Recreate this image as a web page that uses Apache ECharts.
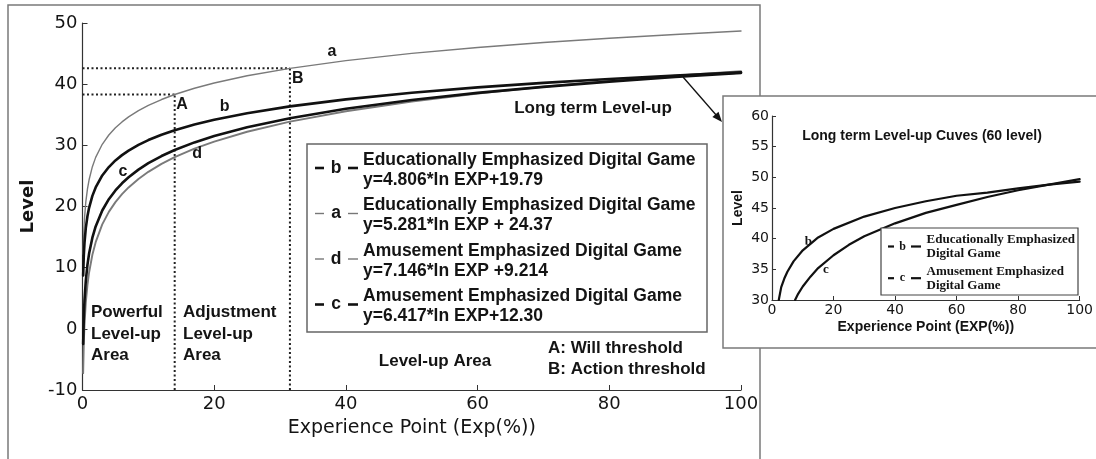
<!DOCTYPE html>
<html>
<head>
<meta charset="utf-8">
<script src="https://cdn.jsdelivr.net/npm/echarts@6/dist/echarts.min.js"></script>
<style>
html,body{margin:0;padding:0;background:#fff;}
#chart{width:1096px;height:459px;}
</style>
</head>
<body>
<div id="chart"></div>
<script>
// ---------- main chart data ----------
const expX   = [0.1,0.2,0.3,0.5,0.75,1,1.5,2,3,4,5,6,7,8.5,10,12,14,17,20,25,31.5,40,50,60,70,80,90,100];
const levelA = [12.21,15.87,18.01,20.71,22.85,24.37,26.51,28.03,30.17,31.69,32.87,33.83,34.65,35.67,36.53,37.49,38.31,39.33,40.19,41.37,42.59,43.85,45.03,45.99,46.81,47.51,48.13,48.69];
const levelB = [8.72,12.06,14.00,16.46,18.41,19.79,21.74,23.12,25.07,26.45,27.53,28.40,29.14,30.08,30.86,31.73,32.47,33.41,34.19,35.26,36.37,37.52,38.59,39.47,40.21,40.85,41.42,41.92];
const levelC = [-2.48,1.97,4.57,7.85,10.45,12.30,14.90,16.75,19.35,21.20,22.63,23.80,24.79,26.03,27.08,28.25,29.24,30.48,31.52,32.96,34.44,35.97,37.40,38.57,39.56,40.42,41.18,41.85];
const levelD = [-7.24,-2.29,0.61,4.26,7.16,9.21,12.11,14.17,17.07,19.12,20.72,22.02,23.12,24.51,25.67,26.97,28.07,29.46,30.62,32.22,33.87,35.58,37.17,38.47,39.57,40.53,41.37,42.12];

const thresholdX = [14, 31.5];      // A, B
const thresholdY = [38.3, 42.6];

const annX    = [37.9, 32.7, 15.1, 21.6, 6.15, 17.4];
const annY    = [45.3, 40.85, 36.6, 36.3, 25.7, 28.6];
const annText = ['a', 'B', 'A', 'b', 'c', 'd'];

const mainXTicks = {min: 0, max: 100, interval: 20};
const mainYTicks = {min: -10, max: 50, interval: 10};

const legendKeys  = ['b', 'a', 'd', 'c'];
const legendNames = ['Educationally Emphasized Digital Game','Educationally Emphasized Digital Game','Amusement Emphasized Digital Game','Amusement Emphasized Digital Game'];
const legendEqs   = ['y=4.806*ln EXP+19.79','y=5.281*ln EXP + 24.37','y=7.146*ln EXP +9.214','y=6.417*ln EXP+12.30'];

// ---------- inset data ----------
const insetXB = [2.2,3,4,5,7,10,15,20,30,40,50,60,70,80,90,100];
const insetB  = [30.0,32.1,33.5,34.6,36.3,38.1,40.2,41.6,43.6,45.0,46.1,47.0,47.5,48.2,48.8,49.3];
const insetXC = [7.5,8.5,10,12.5,15,20,25,30,40,50,60,70,80,90,100];
const insetC  = [30.0,31.0,32.2,33.8,35.2,37.3,39.0,40.4,42.5,44.2,45.5,46.8,47.9,48.8,49.7];
const insetAnnX = [11.8, 17.5];
const insetAnnY = [39.5, 35.0];
const insetAnnText = ['b', 'c'];
const insetLegendKeys = ['b', 'c'];
const insetLegendNames = [['Educationally Emphasized','Digital Game'],['Amusement Emphasized','Digital Game']];

const zip = (xs, ys) => xs.map((x, i) => [x, ys[i]]);

const TXT = '#141414';
const SANS = '"DejaVu Sans", sans-serif';
const ARIAL = '"Liberation Sans", Arial, sans-serif';
const SERIF = '"Liberation Serif", serif';

const chart = echarts.init(document.getElementById('chart'), null, {renderer: 'canvas'});

function curve(name, data, color, width, xi, z) {
  return {
    type: 'line', name, data, xAxisIndex: xi, yAxisIndex: xi,
    showSymbol: false, symbol: 'none', smooth: false,
    lineStyle: {color, width, cap: 'round', join: 'round'}, z: z || 3, silent: true, clip: true
  };
}

function dotted(data) {
  return {
    type: 'line', data, xAxisIndex: 0, yAxisIndex: 0, symbol: 'none',
    lineStyle: {color: '#222', width: 2, type: [2, 2.5]}, silent: true, z: 2
  };
}

function annSeries(xi, xs, ys, texts, font, size, z) {
  return {
    type: 'line', xAxisIndex: xi, yAxisIndex: xi, silent: true, z,
    lineStyle: {width: 0, opacity: 0}, symbol: 'none',
    data: [],
    markPoint: {
      symbol: 'circle', symbolSize: 0, silent: true, z: z,
      itemStyle: {color: '#fff'},
      label: {show: true, position: 'inside', formatter: p => p.name, fontFamily: font, fontWeight: 'bold', fontSize: size, color: TXT, opacity: 1},
      data: xs.map((x, i) => ({coord: [x, ys[i]], name: texts[i]}))
    }
  };
}

const graphics = [];
// outer frame
graphics.push({type: 'rect', shape: {x: 8, y: 5, width: 752, height: 470}, style: {fill: 'none', stroke: '#7a7a7a', lineWidth: 1.5}, z: 0});

// main legend
graphics.push({type: 'rect', shape: {x: 307, y: 144, width: 400, height: 188}, style: {fill: '#fff', stroke: '#666', lineWidth: 1.5}, z: 1});
const legendStyles = {b: ['#111', 2.6], a: ['#777', 1.4], d: ['#777', 1.4], c: ['#111', 2.6]};
const legFont = 'bold 17.5px ' + ARIAL;
legendKeys.forEach((k, i) => {
  const y1 = 160 + i * 45.5;
  const y2 = y1 + 20;
  const ym = y1 + 8;
  const [col, w] = legendStyles[k];
  graphics.push({type: 'line', shape: {x1: 315, y1: ym, x2: 324, y2: ym}, style: {stroke: col, lineWidth: w}, z: 2});
  graphics.push({type: 'line', shape: {x1: 348, y1: ym, x2: 358, y2: ym}, style: {stroke: col, lineWidth: w}, z: 2});
  graphics.push({type: 'text', x: 336, y: ym, style: {text: k, font: legFont, fill: TXT, align: 'center', verticalAlign: 'middle'}, z: 2});
  graphics.push({type: 'text', x: 363, y: y1, style: {text: legendNames[i], font: legFont, fill: TXT, verticalAlign: 'middle'}, z: 2});
  graphics.push({type: 'text', x: 363, y: y2, style: {text: legendEqs[i], font: legFont, fill: TXT, verticalAlign: 'middle'}, z: 2});
});

// area texts
const areaFont = 'bold 17px ' + ARIAL;
graphics.push({type: 'text', x: 91, y: 302, style: {text: 'Powerful\nLevel-up\nArea', font: areaFont, fill: TXT, lineHeight: 21.5, verticalAlign: 'top'}, z: 2});
graphics.push({type: 'text', x: 183, y: 302, style: {text: 'Adjustment\nLevel-up\nArea', font: areaFont, fill: TXT, lineHeight: 21.5, verticalAlign: 'top'}, z: 2});
graphics.push({type: 'text', x: 435, y: 361, style: {text: 'Level-up Area', font: areaFont, fill: TXT, align: 'center', verticalAlign: 'middle'}, z: 2});
graphics.push({type: 'text', x: 548, y: 337.5, style: {text: 'A: Will threshold\nB: Action threshold', font: areaFont, fill: TXT, lineHeight: 21, verticalAlign: 'top'}, z: 2});
graphics.push({type: 'text', x: 593, y: 108, style: {text: 'Long term Level-up', font: areaFont, fill: TXT, align: 'center', verticalAlign: 'middle'}, z: 2});

// arrow
graphics.push({type: 'line', shape: {x1: 683, y1: 77, x2: 717, y2: 116}, style: {stroke: '#111', lineWidth: 1.3}, z: 2});
graphics.push({type: 'polygon', shape: {points: [[722, 122], [712.4, 117.1], [718.5, 111.8]]}, style: {fill: '#111'}, z: 2});

// inset box
graphics.push({type: 'rect', shape: {x: 723, y: 96, width: 390, height: 252}, style: {fill: '#fff', stroke: '#7a7a7a', lineWidth: 1.5}, z: 10});
graphics.push({type: 'text', x: 922, y: 136, style: {text: 'Long term Level-up Cuves (60 level)', font: 'bold 14px ' + ARIAL, fill: TXT, align: 'center', verticalAlign: 'middle'}, z: 30});
// inset legend
graphics.push({type: 'rect', shape: {x: 881, y: 228, width: 197, height: 67}, style: {fill: '#fff', stroke: '#444', lineWidth: 1.2}, z: 30});
insetLegendKeys.forEach((k, i) => {
  const y1 = 239.5 + i * 31.7;
  const y2 = y1 + 14;
  const ym = y1 + 7;
  graphics.push({type: 'line', shape: {x1: 888, y1: ym, x2: 894, y2: ym}, style: {stroke: '#111', lineWidth: 2.2}, z: 31});
  graphics.push({type: 'line', shape: {x1: 911, y1: ym, x2: 921, y2: ym}, style: {stroke: '#111', lineWidth: 2.2}, z: 31});
  graphics.push({type: 'text', x: 902.5, y: ym, style: {text: k, font: 'bold 12px ' + SERIF, fill: TXT, align: 'center', verticalAlign: 'middle'}, z: 31});
  graphics.push({type: 'text', x: 926.5, y: y1, style: {text: insetLegendNames[i][0], font: 'bold 13px ' + SERIF, fill: TXT, verticalAlign: 'middle'}, z: 31});
  graphics.push({type: 'text', x: 926.5, y: y2, style: {text: insetLegendNames[i][1], font: 'bold 13px ' + SERIF, fill: TXT, verticalAlign: 'middle'}, z: 31});
});

const axisLineMain = {show: true, onZero: false, lineStyle: {color: '#333', width: 1.2}};

const option = {
  backgroundColor: '#fff',
  animation: false,
  grid: [
    {left: 82.5, top: 23, width: 658.5, height: 367, containLabel: false},
    {left: 772, top: 116, width: 311, height: 184, containLabel: false, z: 20}
  ],
  xAxis: [
    {
      type: 'value', gridIndex: 0, min: mainXTicks.min, max: mainXTicks.max, interval: mainXTicks.interval,
      axisLine: axisLineMain, axisTick: {show: true, inside: true, length: 5, lineStyle: {color: '#333'}},
      splitLine: {show: false},
      axisLabel: {fontFamily: SANS, fontSize: 18, color: TXT, margin: 5},
      name: 'Experience Point (Exp(%))', nameLocation: 'middle', nameGap: 29,
      nameTextStyle: {fontFamily: SANS, fontSize: 19, color: TXT}
    },
    {
      type: 'value', gridIndex: 1, min: 0, max: 100, interval: 20, z: 20,
      axisLine: {show: true, onZero: false, lineStyle: {color: '#333', width: 1.2}},
      axisTick: {show: true, inside: true, length: 4, lineStyle: {color: '#333'}},
      splitLine: {show: false},
      axisLabel: {fontFamily: SANS, fontSize: 14, color: TXT, margin: 3},
      name: 'Experience Point (EXP(%))', nameLocation: 'middle', nameGap: 20,
      nameTextStyle: {fontFamily: ARIAL, fontWeight: 'bold', fontSize: 14, color: TXT}
    }
  ],
  yAxis: [
    {
      type: 'value', gridIndex: 0, min: mainYTicks.min, max: mainYTicks.max, interval: mainYTicks.interval,
      axisLine: axisLineMain, axisTick: {show: true, inside: true, length: 5, lineStyle: {color: '#333'}},
      splitLine: {show: false},
      axisLabel: {fontFamily: SANS, fontSize: 18, color: TXT, margin: 5},
      name: 'Level', nameLocation: 'middle', nameGap: 42, nameRotate: 90,
      nameTextStyle: {fontFamily: SANS, fontWeight: 'bold', fontSize: 18, color: TXT}
    },
    {
      type: 'value', gridIndex: 1, min: 30, max: 60, interval: 5, z: 20,
      axisLine: {show: true, onZero: false, lineStyle: {color: '#333', width: 1.2}},
      axisTick: {show: true, inside: true, length: 4, lineStyle: {color: '#333'}},
      splitLine: {show: false},
      axisLabel: {fontFamily: SANS, fontSize: 14, color: TXT, margin: 3},
      name: 'Level', nameLocation: 'middle', nameGap: 27, nameRotate: 90,
      nameTextStyle: {fontFamily: ARIAL, fontWeight: 'bold', fontSize: 14, color: TXT}
    }
  ],
  graphic: graphics,
  series: [
    dotted([[thresholdX[0], mainYTicks.min], [thresholdX[0], thresholdY[0]]]),
    dotted([[mainXTicks.min, thresholdY[0]], [thresholdX[0], thresholdY[0]]]),
    dotted([[thresholdX[1], mainYTicks.min], [thresholdX[1], thresholdY[1]]]),
    dotted([[mainXTicks.min, thresholdY[1]], [thresholdX[1], thresholdY[1]]]),
    curve('a', zip(expX, levelA), '#7a7a7a', 1.4, 0),
    curve('d', zip(expX, levelD), '#7a7a7a', 1.9, 0),
    curve('c', zip(expX, levelC), '#111', 2.6, 0),
    curve('b', zip(expX, levelB), '#111', 2.6, 0),
    annSeries(0, annX, annY, annText, ARIAL, 16, 5),
    curve('inset b', zip(insetXB, insetB), '#111', 2.2, 1, 25),
    curve('inset c', zip(insetXC, insetC), '#111', 2.2, 1, 25),
    annSeries(1, insetAnnX, insetAnnY, insetAnnText, SERIF, 13, 40)
  ]
};
chart.setOption(option);
</script>
</body>
</html>
